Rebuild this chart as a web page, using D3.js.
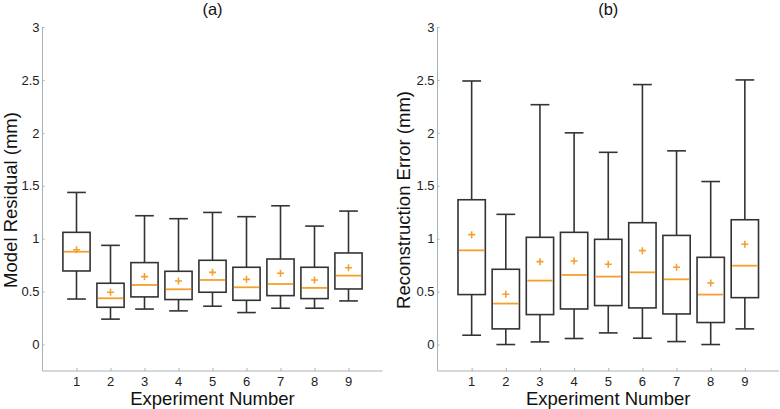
<!DOCTYPE html>
<html><head><meta charset="utf-8">
<script src="https://cdn.jsdelivr.net/npm/d3@7"></script>
<style>body{margin:0;background:#fff}svg{display:block}text{font-family:"Liberation Sans",Arial,sans-serif}</style>
</head><body><svg id="c" width="780" height="409"></svg>
<script>
const experiments = [1,2,3,4,5,6,7,8,9];
const yTicks = [0,0.5,1,1.5,2,2.5,3];
const yTickLabels = ["0","0.5","1","1.5","2","2.5","3"];
// Panel (a): Model Residual
const aLow    = [0.43,0.24,0.335,0.318,0.362,0.302,0.343,0.343,0.412];
const aQ1     = [0.695,0.352,0.45,0.425,0.494,0.418,0.462,0.434,0.525];
const aMedian = [0.877,0.437,0.563,0.522,0.61,0.541,0.572,0.535,0.651];
const aQ3     = [1.06,0.579,0.774,0.692,0.796,0.73,0.808,0.73,0.865];
const aHigh   = [1.437,0.937,1.217,1.189,1.248,1.208,1.311,1.119,1.261];
const aMean   = [0.896,0.494,0.642,0.60,0.682,0.616,0.673,0.61,0.726];
// Panel (b): Reconstruction Error
const bLow    = [0.088,0.0,0.025,0.057,0.11,0.06,0.028,0.0,0.148];
const bQ1     = [0.472,0.148,0.283,0.336,0.368,0.346,0.289,0.208,0.443];
const bMedian = [0.89,0.387,0.604,0.657,0.642,0.682,0.616,0.472,0.745];
const bQ3     = [1.368,0.711,1.013,1.06,0.994,1.151,1.031,0.824,1.179];
const bHigh   = [2.49,1.23,2.266,2.0,1.816,2.456,1.83,1.54,2.5];
const bMean   = [1.038,0.475,0.783,0.789,0.758,0.887,0.73,0.582,0.947];

const svg = d3.select("#c");
const axisCol = "#a9b2b2", boxCol = "#333", orange = "#f5a02c";

function panel(x0, x1, title, ylabel, ylabX, low, q1, med, q3, high, mean) {
  const x = d3.scaleLinear().domain([0,10]).range([x0,x1]);
  const y = d3.scaleLinear().domain([-0.25,3]).range([371,27]);
  const g = svg.append("g");
  // axes
  const ya = g.append("g").attr("transform",`translate(${x0},0)`)
    .call(d3.axisRight(y).tickValues(yTicks).tickSize(2).tickFormat((d,i)=>""));
  ya.select(".domain").attr("d",`M0,${y(3)}V${y(-0.25)}`).attr("stroke",axisCol);
  ya.selectAll(".tick line").attr("stroke",axisCol);
  const xa = g.append("g").attr("transform",`translate(0,${y(-0.25)})`)
    .call(d3.axisTop(x).tickValues(experiments).tickSize(3).tickFormat(""));
  xa.select(".domain").attr("d",`M${x0},0H${x1}`).attr("stroke",axisCol);
  xa.selectAll(".tick line").attr("stroke",axisCol);
  // tick labels
  g.selectAll(".yl").data(yTicks).join("text")
    .attr("x",x0-3).attr("y",d=>y(d)).attr("dy","0.36em")
    .attr("text-anchor","end").attr("font-size",13).attr("fill","#222")
    .text((d,i)=>yTickLabels[i]);
  g.selectAll(".xl").data(experiments).join("text")
    .attr("x",d=>x(d)).attr("y",385.5)
    .attr("text-anchor","middle").attr("font-size",13).attr("fill","#222")
    .text(d=>d);
  // labels
  g.append("text").attr("x",(x0+x1)/2).attr("y",405).attr("text-anchor","middle")
    .attr("font-size",18.5).attr("fill","#111").text("Experiment Number");
  g.append("text").attr("transform",`translate(${ylabX},${(y(3)+y(-0.25))/2+1}) rotate(-90)`)
    .attr("text-anchor","middle").attr("font-size",18.5).attr("fill","#111").text(ylabel);
  g.append("text").attr("x",(x0+x1)/2).attr("y",15).attr("text-anchor","middle")
    .attr("font-size",16.5).attr("fill","#111").text(title);
  // boxes
  const bw = 0.8, cw = 0.55;
  experiments.forEach((e,i)=>{
    const cx = x(e);
    const hw = (x(bw)-x(0))/2, hc = (x(cw)-x(0))/2;
    const s = g.append("g").attr("stroke",boxCol).attr("stroke-width",1.6).attr("fill","none");
    s.append("line").attr("x1",cx).attr("x2",cx).attr("y1",y(high[i])).attr("y2",y(q3[i]));
    s.append("line").attr("x1",cx).attr("x2",cx).attr("y1",y(q1[i])).attr("y2",y(low[i]));
    s.append("line").attr("x1",cx-hc).attr("x2",cx+hc).attr("y1",y(high[i])).attr("y2",y(high[i]));
    s.append("line").attr("x1",cx-hc).attr("x2",cx+hc).attr("y1",y(low[i])).attr("y2",y(low[i]));
    s.append("rect").attr("x",cx-hw).attr("width",2*hw).attr("y",y(q3[i])).attr("height",y(q1[i])-y(q3[i]));
    g.append("line").attr("x1",cx-hw+1).attr("x2",cx+hw-1).attr("y1",y(med[i])).attr("y2",y(med[i]))
      .attr("stroke",orange).attr("stroke-width",1.8);
    const my = y(mean[i]);
    g.append("path").attr("d",`M${cx-3.5},${my}H${cx+3.5}M${cx},${my-3.5}V${my+3.5}`)
      .attr("stroke",orange).attr("stroke-width",1.6);
  });
}
panel(42.5, 382.5, "(a)", "Model Residual (mm)", 17, aLow,aQ1,aMedian,aQ3,aHigh,aMean);
panel(437.5, 779, "(b)", "Reconstruction Error (mm)", 410, bLow,bQ1,bMedian,bQ3,bHigh,bMean);
</script></body></html>
